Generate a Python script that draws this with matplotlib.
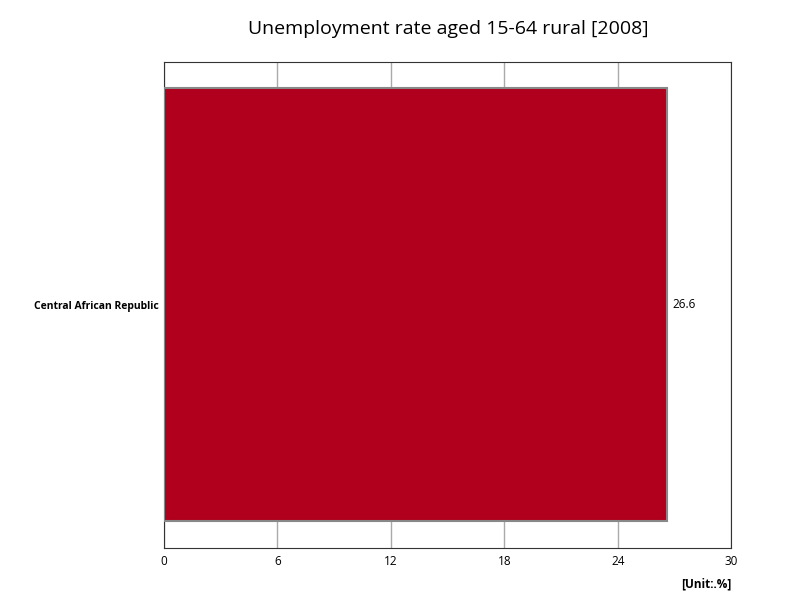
import matplotlib.pyplot as plt

plt.rcParams['font.family'] = ['Open Sans', 'DejaVu Sans']

countries = ['Central African Republic']
values = [26.6]
ticks = [0, 6, 12, 18, 24, 30]

fig = plt.figure(figsize=(8, 6), dpi=100)
ax = fig.add_axes([0.205, 0.0867, 0.709, 0.8103])

ax.barh(countries, values, height=0.891, color='#b0001e', edgecolor='#888888', linewidth=1.5, zorder=3)
for i, v in enumerate(values):
    ax.text(v + 0.3, i, f'{v}', va='center', ha='left', fontsize=8.5)

ax.set_xlim(0, 30)
ax.set_ylim(-0.5, 0.5)
ax.set_xticks(ticks)
ax.set_xticklabels([str(t) for t in ticks], fontsize=8.5)
ax.tick_params(axis='x', length=0, pad=5)
ax.tick_params(axis='y', length=0, pad=4)
for lbl in ax.get_yticklabels():
    lbl.set_fontsize(7.5)
    lbl.set_fontweight('bold')
ax.grid(axis='x', color='#aaaaaa', linewidth=1, zorder=0)
for s in ax.spines.values():
    s.set_color('#333333')

fig.text(0.56, 0.952, 'Unemployment rate aged 15-64 rural [2008]', ha='center', va='center', fontsize=14)
fig.text(0.914, 0.027, '[Unit:.%]', ha='right', va='center', fontsize=8.5, fontweight='bold')

fig.savefig('out.png')
